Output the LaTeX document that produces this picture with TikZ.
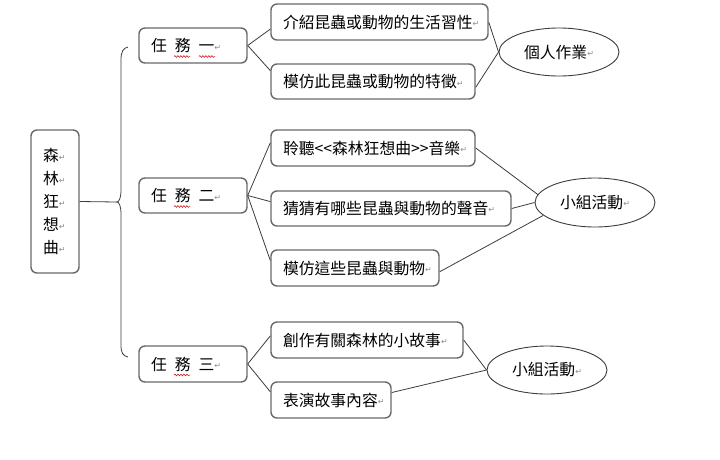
\documentclass[tikz,border=0pt]{standalone}
\usepackage{fontspec}
\setmainfont{Noto Sans CJK TC}
\newfontfamily\symfont{DejaVu Sans}
\usetikzlibrary{shapes.geometric,calc,decorations.pathmorphing}
\definecolor{pmgray}{RGB}{140,140,140}
\definecolor{boxgray}{RGB}{105,105,105}
\definecolor{linegray}{RGB}{60,60,60}
\newcommand{\pmark}{{\symfont\color{pmgray}\fontsize{8}{8}\selectfont\raisebox{1.5pt}{↵}}}
\newcommand{\tgap}{\hspace{8pt}}
\begin{document}
\begin{tikzpicture}[x=1pt,y=-1pt,
  every node/.style={font=\fontsize{15.8}{23}\selectfont},
  box/.style={draw=boxgray, line width=1.4pt, rounded corners=6pt, inner xsep=12pt, inner ysep=0pt, align=left, minimum height=36pt},
  oval/.style={draw=linegray, line width=0.9pt, ellipse, minimum width=120pt, minimum height=48pt, inner sep=0pt},
  conn/.style={draw=linegray, line width=0.8pt},
  wavy/.style={draw=red!80!black, line width=0.5pt, decorate, decoration={snake, amplitude=0.9pt, segment length=3pt}}]
\useasboundingbox (0,0) rectangle (720,459);
% main box
\node[box, text width=24pt, minimum height=143pt] (M) at (55,201.5) {森\pmark\\林\pmark\\狂\pmark\\想\pmark\\曲\pmark};
% tasks
\node[box, text width=84pt, minimum height=35pt] (T1) at (193,45.5) {任\tgap 務\tgap 一\pmark};
\node[box, text width=84pt, minimum height=35pt] (T2) at (193,195.5) {任\tgap 務\tgap 二\pmark};
\node[box, text width=84pt, minimum height=36pt] (T3) at (193,364) {任\tgap 務\tgap 三\pmark};
% activities
\node[box, text width=193pt] (A) at (379.5,22) {介紹昆蟲或動物的生活習性\pmark};
\node[box, text width=180pt, minimum height=35pt] (B) at (373,81.5) {模仿此昆蟲或動物的特徵\pmark};
\node[box, text width=180pt] (C) at (373,148) {聆聽<{}<森林狂想曲>{}>音樂\pmark};
\node[box, text width=216pt, minimum height=35pt] (D) at (391,208.5) {猜猜有哪些昆蟲與動物的聲音\pmark};
\node[box, text width=144pt] (E) at (355,268) {模仿這些昆蟲與動物\pmark};
\node[box, text width=168pt] (F) at (367,340) {創作有關森林的小故事\pmark};
\node[box, text width=96pt] (G) at (331,400) {表演故事內容\pmark};
% ovals
\node[oval] (O1) at (559,52) {個人作業\pmark};
\node[oval, minimum height=49pt] (O2) at (595,202.5) {小組活動\pmark};
\node[oval] (O3) at (547,370) {小組活動\pmark};
% brace
\coordinate (tip) at (117,202);
\draw[conn] (M.east) -- (tip);
\draw[conn] (128,47) .. controls (123,48) and (121,52) .. (121,60) -- (121,190)
  .. controls (121,198) and (119,202) .. (tip)
  .. controls (119,202) and (121,206) .. (121,214) -- (121,345)
  .. controls (121,353) and (123,356) .. (128,357);
% task connectors
\draw[conn] (T1.east) -- ($(A.north west)!0.69!(A.south west)$);
\draw[conn] (T1.east) -- ($(B.north west)!0.2!(B.south west)$);
\draw[conn] (T2.east) -- ($(C.north west)!0.36!(C.south west)$);
\draw[conn] (T2.east) -- ($(D.north west)!0.31!(D.south west)$);
\draw[conn] (T2.east) -- ($(E.north west)!0.3!(E.south west)$);
\draw[conn] (T3.east) -- ($(F.north west)!0.39!(F.south west)$);
\draw[conn] (T3.east) -- ($(G.north west)!0.28!(G.south west)$);
% oval connectors
\draw[conn] (A.east) -- (O1.west);
\draw[conn] ($(B.north east)!0.66!(B.south east)$) -- (O1.west);
\draw[conn] (C.east) -- (O2.172);
\draw[conn] (D.east) -- (O2.west);
\draw[conn] ($(E.north east)!0.6!(E.south east)$) -- (O2.194);
\draw[conn] (F.east) -- (O3.west);
\draw[conn] ($(G.north east)!0.3!(G.south east)$) -- (O3.west);
% spell-check underlines
\draw[wavy] ($(T1.center)+(-19,11)$) -- ($(T1.center)+(-3,11)$);
\draw[wavy] ($(T1.center)+(6,11)$) -- ($(T1.center)+(22,11)$);
\draw[wavy] ($(T2.center)+(-19,11)$) -- ($(T2.center)+(-3,11)$);
\draw[wavy] ($(T3.center)+(-19,11)$) -- ($(T3.center)+(-3,11)$);
\end{tikzpicture}
\end{document}
